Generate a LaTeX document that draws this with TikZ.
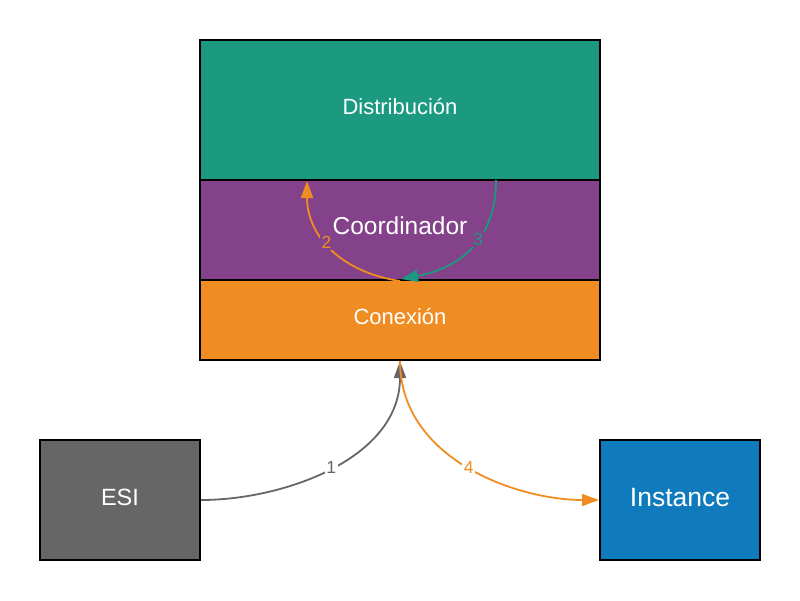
\documentclass[tikz,border=0pt]{standalone}
\usepackage{fontspec}
\setmainfont{Liberation Sans}
\usetikzlibrary{arrows.meta}
\definecolor{cteal}{RGB}{27,154,127}
\definecolor{cpurple}{RGB}{131,66,137}
\definecolor{corange}{RGB}{240,141,34}
\definecolor{cgray}{RGB}{102,102,102}
\definecolor{cblue}{RGB}{15,123,189}
\tikzset{
  layer/.style={draw=black, line width=2pt, minimum width=400pt, text=white, inner sep=0pt},
  endbox/.style={draw=black, line width=2pt, minimum width=160pt, minimum height=120pt, text=white, inner sep=0pt},
  conn/.style={line width=1.8pt, -{Triangle[length=17pt,width=12pt]}},
  elabel/.style={inner sep=1.5pt, font=\fontsize{17.5}{17.5}\selectfont},
}
\begin{document}
\begin{tikzpicture}[x=1pt,y=-1pt]
\useasboundingbox (0,0) rectangle (800,600);
\node[layer, fill=cteal, minimum height=140pt, font=\fontsize{22}{26}\selectfont] (dist) at (400,110) {\raisebox{8pt}{Distribución}};
\node[layer, fill=cpurple, minimum height=100pt, font=\fontsize{24.5}{28}\selectfont] (coord) at (400,230) {\raisebox{8pt}{Coordinador}};
\node[layer, fill=corange, minimum height=80pt, font=\fontsize{22}{26}\selectfont] (con) at (400,320) {\raisebox{8pt}{Conexión}};
\node[endbox, fill=cgray, font=\fontsize{23.5}{27}\selectfont] (esi) at (120,500) {\raisebox{5pt}{ESI}};
\node[endbox, fill=cblue, font=\fontsize{26.5}{30}\selectfont] (inst) at (680,500) {\raisebox{6pt}{Instance}};
\coordinate (a2end) at (307,181);
\coordinate (a3start) at (496,180);
\coordinate (a3end) at (401,279);
% 1
\draw[conn, cgray] (esi.east) .. controls (283,500) and (400,459) .. (con.south)
  node[elabel, pos=0.5, fill=white, text=cgray] {1};
% 4
\draw[conn, corange] (con.south) .. controls (400,459) and (517,500) .. (inst.west)
  node[elabel, pos=0.5, fill=white, text=corange] {4};
% 2
\draw[conn, corange] (coord.south) .. controls (340,272) and (307,235) .. (a2end)
  node[elabel, pos=0.55, fill=cpurple, text=corange] {2};
% 3
\draw[conn, cteal] (a3start) .. controls (496,240) and (460,268) .. (a3end)
  node[elabel, pos=0.42, fill=cpurple, text=cteal] {3};
\end{tikzpicture}
\end{document}
